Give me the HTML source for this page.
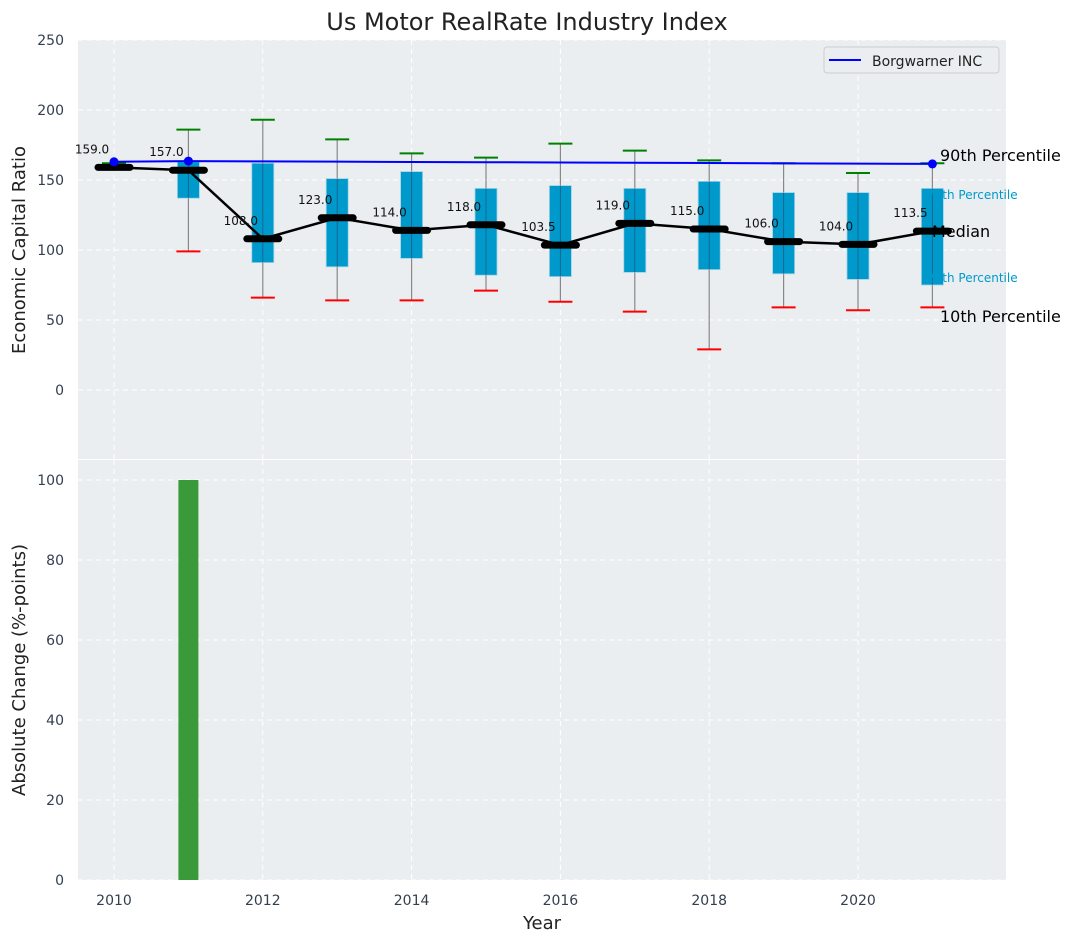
<!DOCTYPE html>
<html><head><meta charset="utf-8"><style>
body{margin:0;background:#fff;}
svg{display:block;font-family:"DejaVu Sans","Liberation Sans",sans-serif;}
</style></head><body>
<svg id="chart" width="1075" height="942" viewBox="0 0 1075 942">
<text x="527" y="30" font-size="24" text-anchor="middle" fill="#222">Us Motor RealRate Industry Index</text>
<rect x="78" y="40" width="928" height="419" fill="#eaeef0"/>
<rect x="78" y="460" width="928" height="420" fill="#eaeef0"/>
<g id="topg"></g><g id="botg"></g>
<text transform="translate(25,250) rotate(-90)" font-size="18" text-anchor="middle" fill="#222">Economic Capital Ratio</text>
<text transform="translate(25,670) rotate(-90)" font-size="18" text-anchor="middle" fill="#222">Absolute Change (%-points)</text>
<text x="542" y="929" font-size="18" text-anchor="middle" fill="#222">Year</text>
<g>
<rect x="824" y="47" width="175" height="26" rx="3" fill="#eaeef0" stroke="#ccc"/>
<line x1="829" y1="60" x2="861" y2="60" stroke="#0000ff" stroke-width="2"/>
<text x="872" y="66" font-size="14" fill="#222">Borgwarner INC</text>
</g>
</svg>
<script>
const years=[2010,2011,2012,2013,2014,2015,2016,2017,2018,2019,2020,2021];
const p90=[162,186,193,179,169,166,176,171,164,162,155,162];
const q3=[160,163,162,151,156,144,146,144,149,141,141,144];
const median=[159,157,108,123,114,118,103.5,119,115,106,104,113.5];
const q1=[158,137,91,88,94,82,81,84,86,83,79,75];
const p10=[158,99,66,64,64,71,63,56,29,59,57,59];
const borg=[163,163.5,163.3,163.1,162.9,162.7,162.5,162.3,162.1,161.9,161.7,161.5];
const changeVals=[0,100,0,0,0,0,0,0,0,0,0,0];
const yTicksTop=[0,50,100,150,200,250];
const yTicksBot=[0,20,40,60,80,100];
const xTicks=[2010,2012,2014,2016,2018,2020];
const NS="http://www.w3.org/2000/svg";
const X=v=>114+(v-2010)*74.4;
const YT=v=>390-v*1.4;
const YB=v=>880-v*4;
function mk(p,t,a){const e=document.createElementNS(NS,t);for(const k in a)e.setAttribute(k,a[k]);p.appendChild(e);return e;}
const topG=document.getElementById('topg'),botG=document.getElementById('botg');
xTicks.forEach(t=>{
 let g=mk(topG,'line',{x1:X(t),x2:X(t),y1:40,y2:459,stroke:'#fff','stroke-dasharray':'5,4'});
 
 
 g=mk(botG,'line',{x1:X(t),x2:X(t),y1:460,y2:880,stroke:'#fff','stroke-dasharray':'5,4'});
 
 
 const l=mk(botG,'text',{x:X(t),y:905,'font-size':14,'text-anchor':'middle',fill:'#333f4f'});l.textContent=t;
 
 
});
yTicksTop.forEach(t=>{
 const g=mk(topG,'line',{x1:78,x2:1006,y1:YT(t),y2:YT(t),stroke:'#fff','stroke-dasharray':'5,4'});
 
 
 const l=mk(topG,'text',{x:64,y:YT(t)+5,'font-size':14,'text-anchor':'end',fill:'#333f4f'});l.textContent=t;
 
 
});
yTicksBot.forEach(t=>{
 const g=mk(botG,'line',{x1:78,x2:1006,y1:YB(t),y2:YB(t),stroke:'#fff','stroke-dasharray':'5,4'});
 
 
 const l=mk(botG,'text',{x:64,y:YB(t)+5,'font-size':14,'text-anchor':'end',fill:'#333f4f'});l.textContent=t;
 
 
});
years.forEach((y,i)=>{
 const x=X(y);
 let e=mk(topG,'line',{x1:x,x2:x,y1:YT(p90[i]),y2:YT(p10[i]),stroke:'#888','stroke-width':1.2});
 
 
 e=mk(topG,'rect',{x:x-11,y:YT(q3[i]),width:22,height:Math.max(1,YT(q1[i])-YT(q3[i])),fill:'#0099cc',stroke:'#9fd3e6','stroke-width':0.8});
 
 
 e=mk(topG,'line',{x1:x,x2:x,y1:YT(q3[i]),y2:YT(q1[i]),stroke:'#335','stroke-width':1,opacity:0.5});
 
 
 e=mk(topG,'line',{x1:x-12,x2:x+12,y1:YT(p90[i]),y2:YT(p90[i]),stroke:'#008000','stroke-width':2});
 
 
 e=mk(topG,'line',{x1:x-12,x2:x+12,y1:YT(p10[i]),y2:YT(p10[i]),stroke:'#ff0000','stroke-width':2});
 
 
});
let pts=years.map((y,i)=>X(y)+','+YT(median[i])).join(' ');
const ml=mk(topG,'polyline',{points:pts,fill:'none',stroke:'#000','stroke-width':2.5});


years.forEach((y,i)=>{
 const x=X(y);
 let e=mk(topG,'line',{x1:x-16,x2:x+16,y1:YT(median[i]),y2:YT(median[i]),stroke:'#000','stroke-width':7,'stroke-linecap':'round'});
 
 
 e=mk(topG,'text',{x:x-22,y:YT(median[i])-14,'font-size':12,'text-anchor':'middle',fill:'#111'});e.textContent=median[i].toFixed(1);
 
 
});
pts=years.map((y,i)=>X(y)+','+YT(borg[i])).join(' ');
const bl=mk(topG,'polyline',{points:pts,fill:'none',stroke:'#0000ff','stroke-width':2});


[0,1,11].forEach(i=>{
 const d=mk(topG,'circle',{cx:X(years[i]),cy:YT(borg[i]),r:4.5,fill:'#0000ff'});
 
 
});
const lab=[['90th Percentile',940,161,16,'#000'],['75th Percentile',927,199,12,'#0099cc'],['Median',932,237,16,'#000'],['25th Percentile',927,282,12,'#0099cc'],['10th Percentile',940,322,16,'#000']];
lab.forEach(l=>{const t=mk(topG,'text',{x:l[1],y:l[2],'font-size':l[3],fill:l[4]});t.textContent=l[0];
 
 
});
years.forEach((y,i)=>{
 if(!changeVals[i])return;
 const b=mk(botG,'rect',{x:X(y)-10,y:YB(changeVals[i]),width:20,height:YB(0)-YB(changeVals[i]),fill:'#3a9a3a'});
 
 
});
</script>
</body></html>
